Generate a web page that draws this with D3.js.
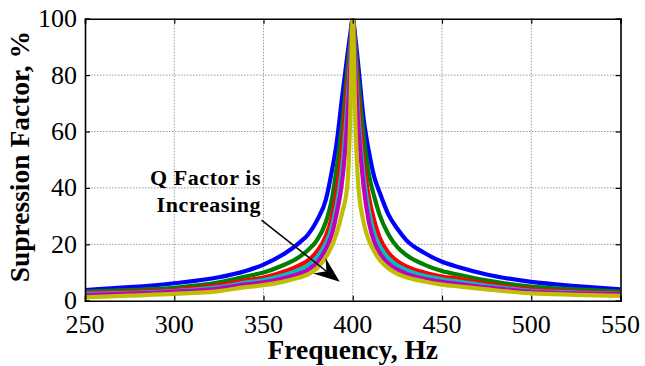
<!DOCTYPE html>
<html>
<head>
<meta charset="utf-8">
<script src="https://cdn.jsdelivr.net/npm/d3@7"></script>
<style>
    body { margin: 0; background: #fff; }
    svg text { font-family: "Liberation Serif", "Times New Roman", Times, serif; }
    .tick-label { font-size: 26px; fill: #000; }
    .axis-label { font-size: 27.5px; font-weight: bold; fill: #000; }
    .note { font-size: 22px; font-weight: bold; fill: #000; letter-spacing: 0.6px; }
    .grid line { stroke: #999; stroke-width: 1; stroke-dasharray: 1.5,1.5; }
</style>
</head>
<body>
<div id="chart-area"></div>
<script>
const chartSize = { width: 645, height: 366 };
const margin = { left: 85, right: 24.5, top: 18.7, bottom: 65.3 };
const width = chartSize.width - margin.left - margin.right;
const height = chartSize.height - margin.top - margin.bottom;

// frequency, Hz
const freqs = [250, 275, 300, 325, 340, 350, 360, 370, 375, 380, 385, 388, 391, 394, 397, 398.5,
    400, 401.5, 403, 406, 409, 412, 415, 420, 425, 430, 440, 450, 460, 475, 500, 525, 550];
// suppression factor, %, one list per Q factor (low to high)
const qBlue = [3.8, 4.8, 6.2, 8.3, 10.5, 12.8, 16, 20.5, 23.5, 28.5, 36, 45, 56, 72, 87, 94,
    100, 93, 84, 65, 53, 44, 38.5, 30.5, 25.5, 21.5, 17, 13.8, 11.8, 9.3, 6.7, 5.2, 4.0];
const qGreen = [3.2, 3.8, 4.6, 6.5, 8.6, 10.0, 12.3, 15.5, 18, 21.5, 28, 35, 47, 62, 82, 91,
    100, 90, 79, 59, 45, 37, 30.5, 23.5, 19, 16.2, 12.8, 10.5, 9.1, 7.2, 5.0, 4.0, 3.2];
const qRed = [2.8, 3.2, 3.8, 5.5, 7.2, 8.2, 10, 12.5, 14.3, 17.5, 23, 29, 39, 54, 77, 88,
    100, 87, 73, 50, 37, 28.5, 22.5, 17, 14, 12.2, 10, 8.6, 7.7, 6.0, 4.0, 3.2, 2.6];
const qCyan = [2.4, 2.8, 3.4, 4.8, 6.4, 7.3, 8.8, 11, 12.6, 15.5, 20.5, 25.5, 34, 47, 70, 85,
    100, 84, 67, 45, 32, 24, 19.5, 15, 12.5, 10.9, 8.8, 7.6, 6.7, 5.3, 3.5, 2.9, 2.4];
const qMagenta = [2.0, 2.5, 3.2, 4.3, 5.8, 6.5, 7.8, 9.6, 11, 13.5, 18.5, 23, 31, 42, 64, 81,
    100, 80, 63, 41, 28, 21, 17, 13.2, 11, 9.6, 7.8, 6.7, 5.9, 4.7, 3.2, 2.6, 2.3];
const qYellow = [1.2, 1.8, 2.4, 3.4, 4.8, 5.5, 6.6, 8.2, 9.3, 11.5, 15.5, 19, 24, 31, 41, 63,
    100, 63, 42, 28, 21.5, 17.5, 14.5, 11.5, 9.5, 8.3, 6.8, 5.7, 5.0, 4.0, 2.6, 2.1, 1.7];

const series = [qBlue, qGreen, qRed, qCyan, qMagenta, qYellow];
const colors = ["#0000ff", "#008000", "#ff0000", "#00bfbf", "#bf00bf", "#bfbf00"];

const xTicks = [250, 300, 350, 400, 450, 500, 550];
const yTicks = [0, 20, 40, 60, 80, 100];

const noteLines = ["Q Factor is", "Increasing"];
const notePos = [[348.7, 41.2], [348.7, 31.3]];
const arrowFrom = [348.9, 28.6];
const arrowTo = [392.7, 6.7];

const svg = d3.select("#chart-area")
    .append("svg")
    .attr("width", chartSize.width)
    .attr("height", chartSize.height)
    .style("background", "#fff");

const x = d3.scaleLinear().domain([250, 550]).range([0, width]);
const y = d3.scaleLinear().domain([0, 100]).range([height, 0]);

const g = svg.append("g").attr("transform", `translate(${margin.left},${margin.top})`);

svg.append("defs").append("clipPath").attr("id", "plot-clip")
    .append("rect").attr("width", width).attr("height", height);

// grid
const grid = g.append("g").attr("class", "grid");
grid.selectAll(".gx").data(xTicks.slice(1, -1)).join("line")
    .attr("x1", d => x(d)).attr("x2", d => x(d))
    .attr("y1", 0).attr("y2", height);
grid.selectAll(".gy").data(yTicks.slice(1, -1)).join("line")
    .attr("class", "gy")
    .attr("x1", 0).attr("x2", width)
    .attr("y1", d => y(d)).attr("y2", d => y(d));

// curves
const line = d3.line()
    .x((d, i) => x(freqs[i]))
    .y(d => y(d))
    .curve(d3.curveMonotoneX);
g.append("g").attr("clip-path", "url(#plot-clip)")
    .selectAll("path").data(series).join("path")
    .attr("d", line)
    .attr("fill", "none")
    .attr("stroke", (d, i) => colors[i])
    .attr("stroke-width", 4.2)
    .attr("stroke-linejoin", "round");

// axes box with inward ticks
const xAxisB = d3.axisBottom(x).tickValues(xTicks).tickSize(-5).tickFormat("");
const xAxisT = d3.axisTop(x).tickValues(xTicks).tickSize(-5).tickFormat("");
const yAxisL = d3.axisLeft(y).tickValues(yTicks).tickSize(-5).tickFormat("");
const yAxisR = d3.axisRight(y).tickValues(yTicks).tickSize(-5).tickFormat("");
g.append("g").attr("transform", `translate(0,${height})`).call(xAxisB);
g.append("g").call(xAxisT);
g.append("g").call(yAxisL);
g.append("g").attr("transform", `translate(${width},0)`).call(yAxisR);
g.selectAll(".domain").attr("stroke", "#000").attr("stroke-width", 1.6);
g.selectAll(".tick line").attr("stroke", "#000").attr("stroke-width", 1.2);

// tick labels
g.selectAll(".xl").data(xTicks).join("text")
    .attr("class", "tick-label")
    .attr("x", d => x(d))
    .attr("y", height + 32.5)
    .attr("text-anchor", "middle")
    .text(d => d);
g.selectAll(".yl").data(yTicks).join("text")
    .attr("class", "tick-label")
    .attr("x", -8)
    .attr("y", d => y(d) + 8.5)
    .attr("text-anchor", "end")
    .text(d => d);

// axis labels
g.append("text").attr("class", "axis-label")
    .attr("x", width / 2)
    .attr("y", height + 58)
    .attr("text-anchor", "middle")
    .text("Frequency, Hz");
g.append("text").attr("class", "axis-label")
    .attr("transform", "rotate(-90)")
    .attr("x", -height / 2 + 3)
    .attr("y", -56)
    .attr("text-anchor", "middle")
    .text("Supression Factor, %");

// annotation
g.selectAll(".note").data(noteLines).join("text")
    .attr("class", "note")
    .attr("x", (d, i) => x(notePos[i][0]))
    .attr("y", (d, i) => y(notePos[i][1]))
    .attr("text-anchor", "end")
    .text(d => d);

const x1 = x(arrowFrom[0]), y1 = y(arrowFrom[1]);
const x2 = x(arrowTo[0]), y2 = y(arrowTo[1]);
const ang = Math.atan2(y2 - y1, x2 - x1);
const headLen = 26, headHalf = 10, notch = 17;
const pt = (l, w) => [x2 - l * Math.cos(ang) - w * Math.sin(ang), y2 - l * Math.sin(ang) + w * Math.cos(ang)];
g.append("line")
    .attr("x1", x1).attr("y1", y1)
    .attr("x2", pt(notch, 0)[0]).attr("y2", pt(notch, 0)[1])
    .attr("stroke", "#000").attr("stroke-width", 1.5);
g.append("polygon")
    .attr("points", [[x2, y2], pt(headLen, headHalf), pt(notch, 0), pt(headLen, -headHalf)].map(p => p.join(",")).join(" "))
    .attr("fill", "#000");
</script>
</body>
</html>
